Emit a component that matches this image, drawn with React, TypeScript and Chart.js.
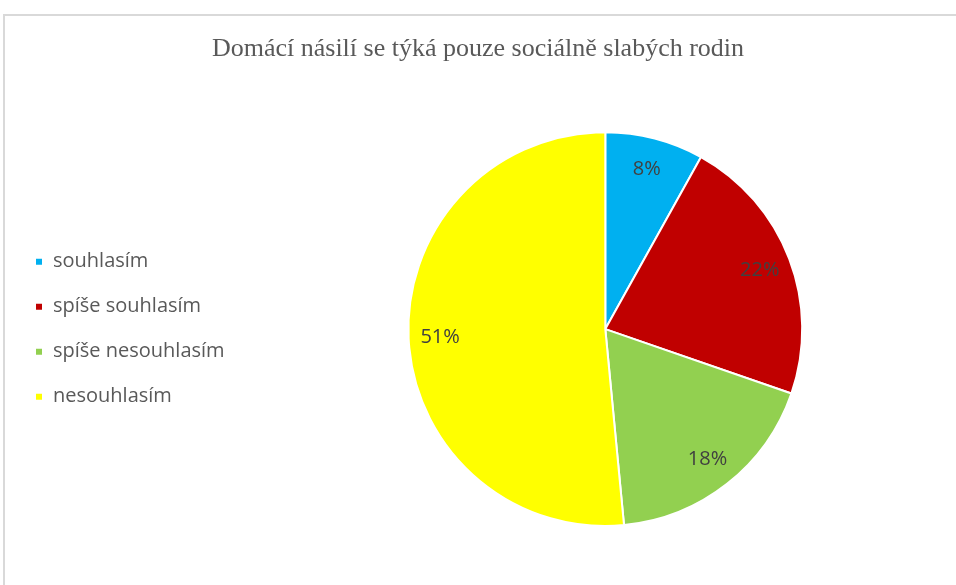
import React, { useEffect, useRef } from "react";
import { Chart, registerables } from "chart.js";

Chart.register(...registerables);

const titleText = "Domácí násilí se týká pouze sociálně slabých rodin";
const categories = ["souhlasím", "spíše souhlasím", "spíše nesouhlasím", "nesouhlasím"];
const values = [8, 22, 18, 51];
const sliceColors = ["#00B0F0", "#C00000", "#92D050", "#FFFF00"];

const pctLabels = {
  id: "pctLabels",
  afterDatasetsDraw(chart: any) {
    const { ctx } = chart;
    const meta = chart.getDatasetMeta(0);
    ctx.save();
    ctx.font = "20px 'Open Sans', sans-serif";
    ctx.fillStyle = "#404040";
    ctx.textAlign = "center";
    ctx.textBaseline = "middle";
    meta.data.forEach((arc: any, i: number) => {
      const mid = (arc.startAngle + arc.endAngle) / 2;
      const r = arc.outerRadius * 0.84;
      const x = arc.x + Math.cos(mid) * r;
      const y = arc.y + Math.sin(mid) * r;
      ctx.fillText(values[i] + "%", x, y);
    });
    ctx.restore();
  },
};

export default function App() {
  const ref = useRef<HTMLCanvasElement>(null);
  useEffect(() => {
    if (!ref.current) return;
    const baseGen = (Chart as any).overrides.pie.plugins.legend.labels.generateLabels;
    const chart = new Chart(ref.current, {
      type: "pie",
      data: {
        labels: categories,
        datasets: [
          {
            data: values,
            backgroundColor: sliceColors,
            borderColor: "#ffffff",
            borderWidth: 2,
          },
        ],
      },
      options: {
        animation: false,
        responsive: false,
        maintainAspectRatio: false,
        layout: { padding: { left: 10, right: 10, top: 0, bottom: 58 } },
        plugins: {
          title: {
            display: true,
            text: titleText,
            color: "#595959",
            font: { family: "'Liberation Serif', 'Times New Roman', serif", size: 26, weight: "normal" },
            padding: { top: 34, bottom: 66 },
          },
          legend: {
            display: true,
            position: "left",
            title: { display: true, text: "", padding: { top: 117, bottom: 0 } },
            labels: {
              boxWidth: 8,
              boxHeight: 8,
              padding: 25,
              color: "#595959",
              font: { family: "'Open Sans', sans-serif", size: 20 },
              generateLabels: (c: any) =>
                baseGen(c).map((it: any) => ({ ...it, text: it.text + "\u2003\u2002" })),
            },
          },
          tooltip: { enabled: false },
        },
      },
      plugins: [pctLabels],
    });
    return () => chart.destroy();
  }, []);
  return (
    <div style={{ position: "fixed", left: 0, top: 0, width: 956, height: 585, overflow: "hidden", background: "#fff" }}>
      <div
        style={{
          position: "absolute",
          left: 3,
          top: 14,
          width: 1000,
          height: 600,
          borderLeft: "2px solid #d9d9d9",
          borderTop: "2px solid #d9d9d9",
        }}
      />
      <canvas ref={ref} width={956} height={585} style={{ position: "absolute", left: 0, top: 0 }} />
    </div>
  );
}
